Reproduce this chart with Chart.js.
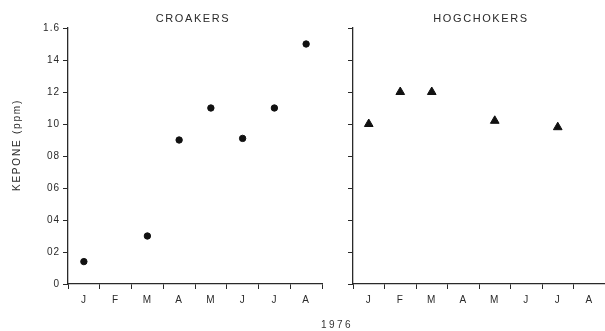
<!DOCTYPE html>
<html>
<head>
<meta charset="utf-8">
<script src="https://cdn.jsdelivr.net/npm/chart.js@4.4.1/dist/chart.umd.min.js"></script>
<style>
  html, body { margin: 0; padding: 0; background: #fff; }
  #wrap { position: relative; width: 605px; height: 331px; overflow: hidden; }
  #c1 { position: absolute; left: 0; top: 0; }
  #c2 { position: absolute; left: 330px; top: 0; }
  #year { position: absolute; left: 315px; top: 319px; width: 44px; text-align: center;
          font: 10px "Liberation Sans", sans-serif; letter-spacing: 2.5px; color: #333; }
</style>
</head>
<body>
<div id="wrap">
  <canvas id="c1" width="335" height="331"></canvas>
  <canvas id="c2" width="285" height="331"></canvas>
  <div id="year">1976</div>
</div>
<script>
const months = ["J", "F", "M", "A", "M", "J", "J", "A"];
const croakers = [0.14, null, 0.30, 0.90, 1.10, 0.91, 1.10, 1.50];
const hogchokers = [1.00, 1.20, 1.20, null, 1.02, null, 0.98, null];
const yTickLabels = ["0", "02", "04", "06", "08", "10", "12", "14", "1.6"];
const titles = ["CROAKERS", "HOGCHOKERS"];
const yTitle = "KEPONE (ppm)";

const ink = "#2a2a2a";
const fontFam = "'Liberation Sans', Arial, sans-serif";

const spacing = {
  id: "spacing",
  beforeDraw(chart) { try { chart.ctx.letterSpacing = "1px"; } catch (e) {} }
};

const panelText = {
  id: "panelText",
  afterDraw(chart, args, opts) {
    const ctx = chart.ctx, a = chart.chartArea;
    ctx.save();
    ctx.fillStyle = ink;
    ctx.font = "11px " + fontFam;
    try { ctx.letterSpacing = "1.6px"; } catch (e) {}
    ctx.textAlign = "center";
    ctx.textBaseline = "middle";
    ctx.fillText(opts.text, (a.left + a.right) / 2 + opts.dx, 19);
    if (opts.yTitle) {
      ctx.translate(17, 145);
      ctx.rotate(-Math.PI / 2);
      ctx.font = "10px " + fontFam;
      try { ctx.letterSpacing = "1.8px"; } catch (e) {}
      ctx.fillText(opts.yTitle, 0, 0);
    }
    ctx.restore();
  }
};

function makeChart(id, data, style, radius, titleText, showYLabels, yWidth, padRight, titleDx) {
  return new Chart(document.getElementById(id), {
    type: "line",
    data: {
      labels: months,
      datasets: [{
        data: data,
        showLine: false,
        pointStyle: style,
        pointRadius: radius,
        pointHoverRadius: radius,
        pointBackgroundColor: "#111",
        pointBorderColor: "#111",
        pointBorderWidth: 1
      }]
    },
    options: {
      responsive: false,
      animation: false,
      events: [],
      layout: { padding: { top: 28, right: padRight, left: 0, bottom: 0 } },
      plugins: {
        legend: { display: false },
        tooltip: { enabled: false },
        panelText: { text: titleText, dx: titleDx, yTitle: showYLabels ? yTitle : null }
      },
      scales: {
        x: {
          type: "category",
          offset: true,
          afterFit(s) { s.height = 47; },
          grid: { offset: true, drawOnChartArea: false, drawTicks: true, tickLength: 5, color: ink, lineWidth: 1 },
          border: { display: true, color: ink, width: 1.3 },
          ticks: { color: ink, font: { size: 10, family: fontFam }, padding: 5, maxRotation: 0, autoSkip: false }
        },
        y: {
          min: 0, max: 1.6,
          afterFit(s) { s.width = yWidth; },
          afterBuildTicks(s) {
            s.ticks = yTickLabels.map((_, i) => ({ value: Math.round(i * 2) / 10 }));
          },
          grid: { drawOnChartArea: false, drawTicks: true, tickLength: 5, color: ink, lineWidth: 1 },
          border: { display: true, color: ink, width: 1.3 },
          ticks: {
            display: showYLabels,
            color: ink,
            font: { size: 10, family: fontFam },
            padding: 3,
            callback: (v, i) => yTickLabels[i]
          }
        }
      }
    },
    plugins: [spacing, panelText]
  });
}

makeChart("c1", croakers, "circle", 3.2, titles[0], true, 68, 13, -2);
makeChart("c2", hogchokers, "triangle", 5, titles[1], false, 23, 10, 2);
</script>
</body>
</html>
